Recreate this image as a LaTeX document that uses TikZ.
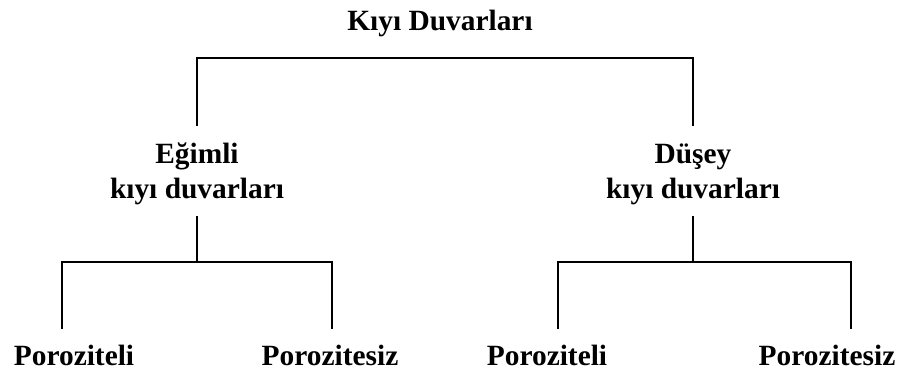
\documentclass[tikz,border=0pt]{standalone}
\usepackage{fontspec}
\setmainfont{Liberation Serif}
\begin{document}
\begin{tikzpicture}[x=1bp,y=-1bp,
  lbl/.style={font=\fontsize{29.5}{35}\selectfont\bfseries, inner sep=0pt, anchor=base, align=center},
  conn/.style={line width=1.6bp, line cap=rect}]
\useasboundingbox (0,0) rectangle (902,375);
% text nodes
\node[lbl] (root) at (440,30) {Kıyı Duvarları};
\node[lbl] (egimli) at (197,198) {Eğimli\\kıyı duvarları};
\node[lbl] (dusey) at (693,198) {Düşey\\kıyı duvarları};
\node[lbl] (p1) at (74,365) {Poroziteli};
\node[lbl] (p2) at (330,365) {Porozitesiz};
\node[lbl] (p3) at (547,365) {Poroziteli};
\node[lbl] (p4) at (827,365) {Porozitesiz};
% connector end points
\coordinate (a1) at (197,125);
\coordinate (a2) at (693,125);
\coordinate (b1) at (197,217);
\coordinate (b2) at (693,217);
\coordinate (j1) at (197,262);
\coordinate (j2) at (693,262);
\coordinate (c1) at (62,328);
\coordinate (c2) at (332,328);
\coordinate (c3) at (558,328);
\coordinate (c4) at (851,328);
% connectors
\draw[conn] (a1) |- (440,58) -| (a2);
\draw[conn] (b1) -- (j1);
\draw[conn] (b2) -- (j2);
\draw[conn] (c1) |- (j1) -| (c2);
\draw[conn] (c3) |- (j2) -| (c4);
\end{tikzpicture}
\end{document}
